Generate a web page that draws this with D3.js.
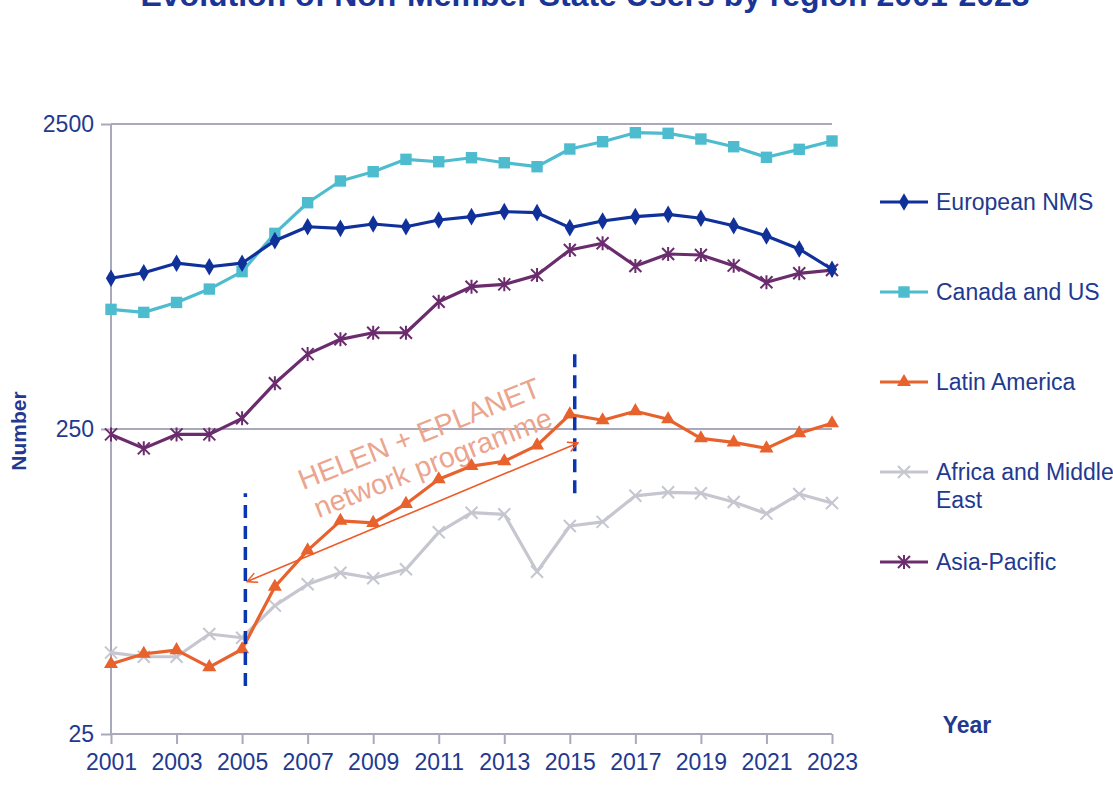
<!DOCTYPE html>
<html>
<head>
<meta charset="utf-8">
<script src="https://cdn.jsdelivr.net/npm/d3@7"></script>
<style>
  html, body { margin: 0; padding: 0; background: #fff; }
  svg { display: block; font-family: "Liberation Sans", Arial, sans-serif; }
</style>
</head>
<body>
<svg id="chart" width="1113" height="786"></svg>
<script>
// ---------------- data ----------------
const years = [2001,2002,2003,2004,2005,2006,2007,2008,2009,2010,2011,2012,2013,2014,2015,2016,2017,2018,2019,2020,2021,2022,2023];
const europeanNMS   = [780,813,874,851,874,1036,1151,1137,1175,1151,1211,1242,1290,1280,1143,1202,1242,1264,1227,1160,1074,973,835];
const canadaUS      = [617,603,650,719,820,1095,1380,1626,1744,1915,1880,1938,1866,1811,2070,2187,2341,2330,2232,2106,1944,2065,2199];
const latinAmerica  = [42.4,45.8,47.1,41.4,47.4,76,100,125,123,142,171,189,196,221,279,267,286,269,233,226,216,242,261];
const africaME      = [46.2,44.8,44.8,53.2,51.7,65.9,77.4,84.5,81,86.7,114.6,132.9,131.3,85.1,120.2,124,151,155,154,144,132,153,143];
const asiaPacific   = [240,216,240,240,271,353,440,492,517,517,653,732,745,799,966,1016,856,937,930,858,757,810,830];
const seriesNames   = ["European NMS","Canada and US","Latin America","Africa and Middle East","Asia-Pacific"];
const yTickValues   = [25, 250, 2500];
const xTickValues   = [2001,2003,2005,2007,2009,2011,2013,2015,2017,2019,2021,2023];
const titleText     = "Evolution of Non-Member State Users by region 2001-2023";
const annotationLines = ["HELEN + EPLANET", "network programme"];
const programmeStart = 2005, programmeEnd = 2015;

// ---------------- layout ----------------
const svg = d3.select("#chart");
const x = d3.scaleLinear().domain([2001, 2023]).range([111, 832]);
const y = d3.scaleLog().domain([25, 2500]).range([734, 124]);

const textColor = "#22398F";
const axisColor = "#A9A9BC";

const series = [
  { name: seriesNames[0], values: europeanNMS,  color: "#10309A", marker: "diamond" },
  { name: seriesNames[1], values: canadaUS,     color: "#4DBCCF", marker: "square" },
  { name: seriesNames[2], values: latinAmerica, color: "#E8622E", marker: "triangle" },
  { name: seriesNames[3], values: africaME,     color: "#C6C6D0", marker: "x" },
  { name: seriesNames[4], values: asiaPacific,  color: "#6B2C6E", marker: "star" }
];

// title (partly off the top edge, as in the source)
svg.append("text")
  .attr("x", 585).attr("y", 6)
  .attr("text-anchor", "middle")
  .attr("font-size", 32).attr("font-weight", "bold")
  .attr("fill", "#1A3596")
  .text(titleText);

// gridlines
svg.append("g").selectAll("line").data([250, 2500]).join("line")
  .attr("x1", x(2001)).attr("x2", x(2023))
  .attr("y1", d => y(d)).attr("y2", d => y(d))
  .attr("stroke", axisColor).attr("stroke-width", 2);

// axes
const yAxis = svg.append("g").attr("transform", `translate(${x(2001)},0)`)
  .call(d3.axisLeft(y).tickValues(yTickValues).tickFormat(d3.format("d")).tickSize(10).tickPadding(7));
const xAxis = svg.append("g").attr("transform", `translate(0,${y(25)})`)
  .call(d3.axisBottom(x).tickValues(xTickValues).tickFormat(d3.format("d")).tickSize(10).tickPadding(10));
[yAxis, xAxis].forEach(g => {
  g.select(".domain").attr("stroke", axisColor).attr("stroke-width", 2);
  g.selectAll(".tick line").attr("stroke", axisColor).attr("stroke-width", 2);
  g.selectAll(".tick text").attr("fill", textColor).attr("font-size", 23)
    .attr("font-family", "Liberation Sans, Arial, sans-serif");
});
xAxis.select(".domain").attr("d", `M${x(2001)},0H${x(2023)}`);
yAxis.select(".domain").attr("d", `M0,${y(25)}V${y(2500)}`);

// axis titles
svg.append("text")
  .attr("transform", "translate(26,431) rotate(-90)")
  .attr("text-anchor", "middle")
  .attr("font-size", 21).attr("font-weight", "bold").attr("fill", textColor)
  .text("Number");
svg.append("text")
  .attr("x", 967).attr("y", 733).attr("text-anchor", "middle")
  .attr("font-size", 23).attr("font-weight", "bold").attr("fill", textColor)
  .text("Year");

// annotation text (behind lines)
const ann = svg.append("text")
  .attr("transform", "translate(303,490) rotate(-21.5)")
  .attr("font-size", 28.5).attr("fill", "#EBA58E");
annotationLines.forEach((t, i) => {
  ann.append("tspan").attr("x", i === 0 ? 0 : 4).attr("dy", i === 0 ? 0 : 32).text(t);
});

// marker shapes
function markerPath(type) {
  switch (type) {
    case "diamond":  return d3.symbol(d3.symbolDiamond, 90)();
    case "square":   return d3.symbol(d3.symbolSquare, 130)();
    case "triangle": return d3.symbol(d3.symbolTriangle, 85)();
    case "x":        return "M-6,-6L6,6M-6,6L6,-6";
    case "star":     return "M-6,-6L6,6M-6,6L6,-6M0,-7L0,7";
  }
}
function drawMarker(g, type, color) {
  const p = g.append("path").attr("d", markerPath(type));
  if (type === "x" || type === "star") {
    p.attr("fill", "none").attr("stroke", color).attr("stroke-width", 2);
  } else {
    p.attr("fill", color).attr("stroke", "none");
  }
}

// series
const line = d3.line().x((d, i) => x(years[i])).y(d => y(d));
const drawOrder = [3, 4, 2, 1, 0];
drawOrder.forEach(si => {
  const s = series[si];
  const g = svg.append("g");
  g.append("path").attr("d", line(s.values))
    .attr("fill", "none").attr("stroke", s.color).attr("stroke-width", 3.2)
    .attr("stroke-linejoin", "round");
  s.values.forEach((v, i) => {
    const mg = g.append("g").attr("transform", `translate(${x(years[i])},${y(v)})`);
    drawMarker(mg, s.marker, s.color);
  });
});

// programme markers: dashed vertical lines
const dashed = [
  { year: programmeStart + 0.1, from: 35.9, to: 154 },
  { year: programmeEnd + 0.15, from: 154, to: 454 }
];
svg.append("g").selectAll("line").data(dashed).join("line")
  .attr("x1", d => x(d.year)).attr("x2", d => x(d.year))
  .attr("y1", d => y(d.from)).attr("y2", d => y(d.to))
  .attr("stroke", "#0A36B0").attr("stroke-width", 3.5)
  .attr("stroke-dasharray", "13,8");

// double-headed arrow
const defs = svg.append("defs");
["start", "end"].forEach(k => {
  defs.append("marker").attr("id", "arr-" + k)
    .attr("viewBox", "0 0 12 12").attr("refX", k === "end" ? 11 : 1).attr("refY", 6)
    .attr("markerWidth", 12).attr("markerHeight", 12).attr("markerUnits", "userSpaceOnUse")
    .attr("orient", "auto")
    .append("path")
    .attr("d", k === "end" ? "M1,1L11,6L1,11" : "M11,1L1,6L11,11")
    .attr("fill", "none").attr("stroke", "#EE5A28").attr("stroke-width", 1.5);
});
svg.append("line")
  .attr("x1", x(programmeStart + 0.15)).attr("y1", y(79))
  .attr("x2", x(programmeEnd + 0.25)).attr("y2", y(225))
  .attr("stroke", "#EE5A28").attr("stroke-width", 1.6)
  .attr("marker-start", "url(#arr-start)").attr("marker-end", "url(#arr-end)");

// legend
const legendY = [202, 292, 382, 472, 562];
series.forEach((s, i) => {
  const g = svg.append("g").attr("transform", `translate(880,${legendY[i]})`);
  g.append("line").attr("x1", 0).attr("x2", 48).attr("stroke", s.color).attr("stroke-width", 3.2);
  const mg = g.append("g").attr("transform", "translate(24,0)");
  drawMarker(mg, s.marker, s.color);
  const t = g.append("text").attr("x", 56).attr("y", 8)
    .attr("font-size", 23).attr("fill", textColor);
  if (s.name === "Africa and Middle East") {
    t.append("tspan").attr("x", 56).text("Africa and Middle");
    t.append("tspan").attr("x", 56).attr("dy", 28).text("East");
  } else {
    t.text(s.name);
  }
});
</script>
</body>
</html>
